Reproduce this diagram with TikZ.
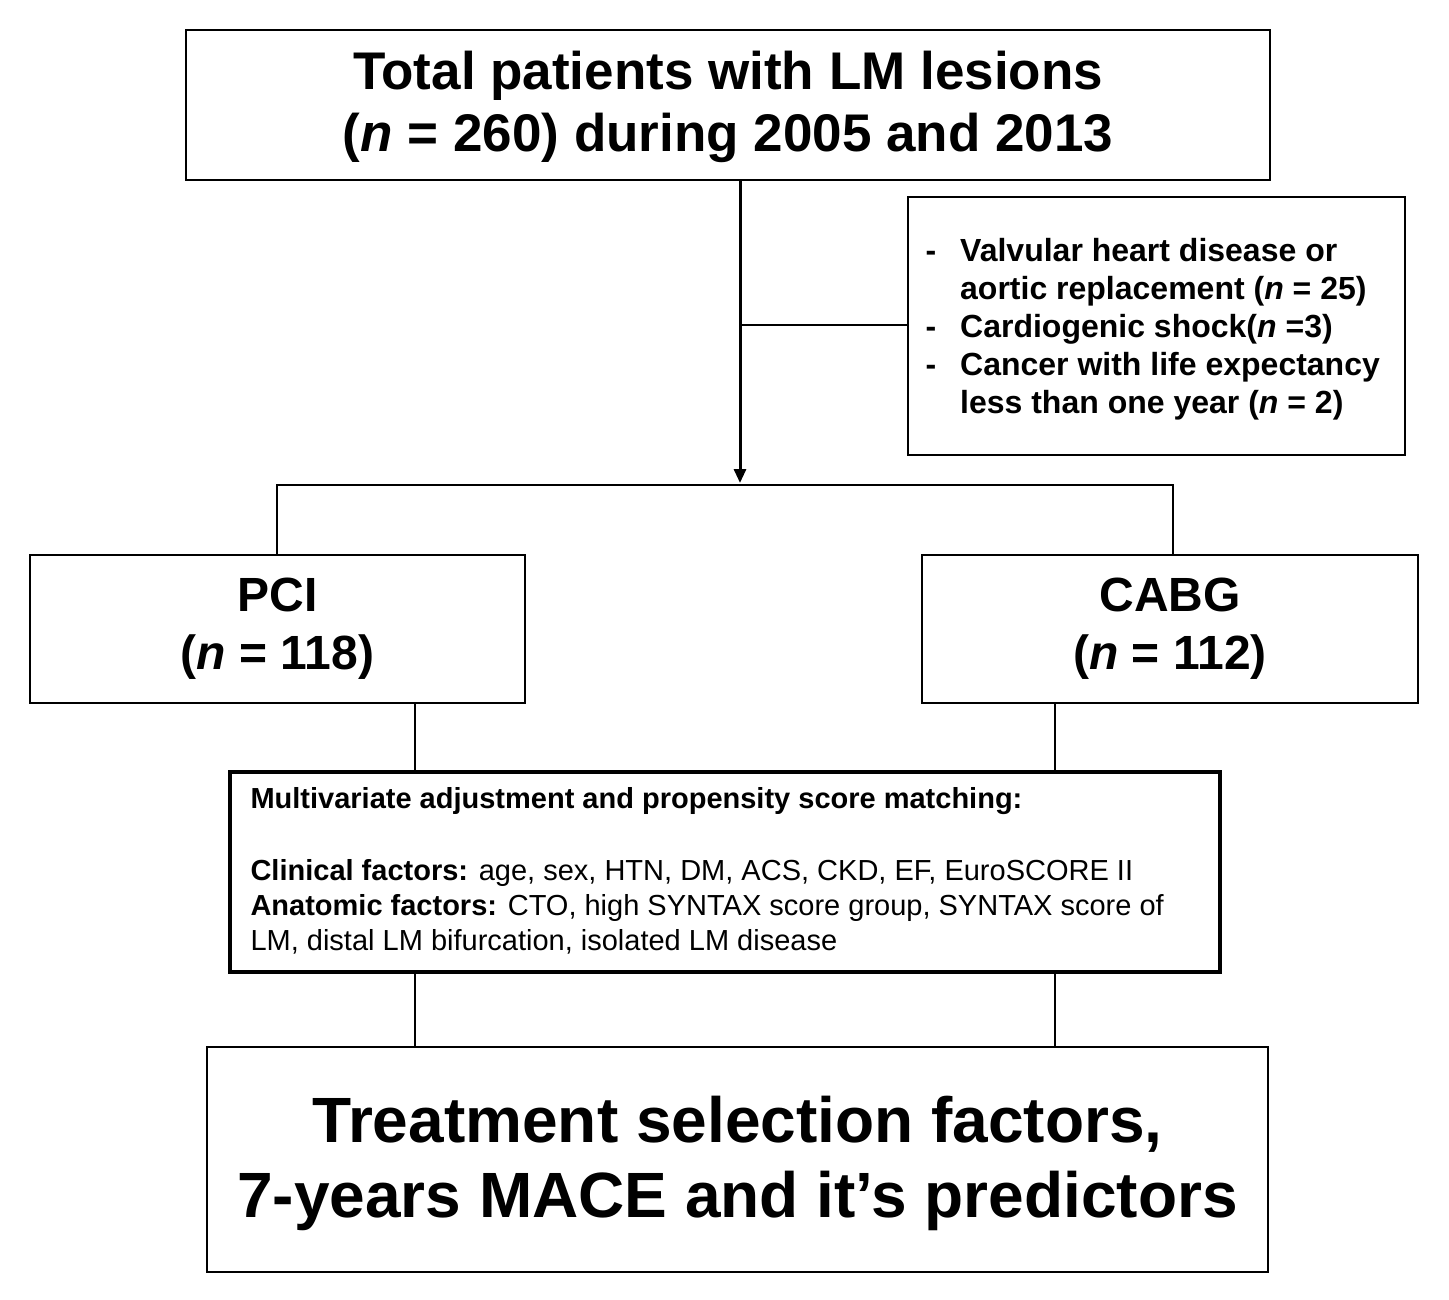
\documentclass[tikz,border=0pt]{standalone}
\usepackage{fontspec}
\setmainfont{Liberation Sans}
\usetikzlibrary{arrows.meta}
\begin{document}
\begin{tikzpicture}[x=1pt,y=-1pt,
  box/.style={draw,line width=2pt,inner sep=0pt},
  ln/.style={line width=2pt},
  fs/.style 2 args={font=\fontsize{#1}{#2}\selectfont\bfseries}]
\useasboundingbox (0,0) rectangle (1449,1300);
\node[box,minimum width=1084,minimum height=150] (top) at (728,105) {};
\node[fs={53}{62},align=center] at (728,107) {Total patients with LM lesions\\(\textit{n} = 260) during 2005 and 2013};
\node[box,minimum width=497,minimum height=258] (ex) at (1156.5,326) {};
\node[fs={32}{38},align=left,anchor=west] at (922,330) {%
\begin{tabular}{@{}l@{\hspace{24pt}}l@{}}
-& Valvular heart disease or\\
 & aortic replacement (\textit{n} = 25)\\
-& Cardiogenic shock(\textit{n} =3)\\
-& Cancer with life expectancy\\
 & less than one year (\textit{n} = 2)
\end{tabular}};
\coordinate (j) at (740,483);
\coordinate (b) at (740,325);
\draw[line width=3pt,-{Triangle[length=14pt,width=12pt]}] (top.south -| j) -- (j);
\draw[ln] (b) -- (ex.west |- b);
\node[box,minimum width=495,minimum height=148] (pci) at (277.5,629) {};
\node[fs={48}{58},align=center] at (pci) {PCI\\(\textit{n} = 118)};
\node[box,minimum width=496,minimum height=148] (cabg) at (1170,629) {};
\node[fs={48}{58},align=center] at (cabg) {CABG\\(\textit{n} = 112)};
\coordinate (l) at (277,485);
\coordinate (r) at (1173,485);
\draw[ln] (pci.north -| l) -- (l) -- (r) -- (r |- cabg.north);
\node[draw,line width=3.5pt,minimum width=990,minimum height=200,inner sep=0pt] (mid) at (725,872) {};
\node[anchor=north west,align=left,font=\fontsize{29}{35}\selectfont] at (247,784) {%
\textbf{Multivariate adjustment and propensity score matching:}\\[37pt]
\textbf{Clinical factors:} age, sex, HTN, DM, ACS, CKD, EF, EuroSCORE II\\
\textbf{Anatomic factors:} CTO, high SYNTAX score group, SYNTAX score of\\
LM, distal LM bifurcation, isolated LM disease};
\node[box,minimum width=1061,minimum height=225] (bot) at (737.5,1159.5) {};
\node[fs={64}{75},align=center] at (737.5,1163) {Treatment selection factors,\\7-years MACE and it’s predictors};
\coordinate (xl) at (415,0);
\coordinate (xr) at (1055,0);
\draw[ln] (xl |- pci.south) -- (xl |- mid.north);
\draw[ln] (xr |- cabg.south) -- (xr |- mid.north);
\draw[ln] (xl |- mid.south) -- (xl |- bot.north);
\draw[ln] (xr |- mid.south) -- (xr |- bot.north);
\end{tikzpicture}
\end{document}
